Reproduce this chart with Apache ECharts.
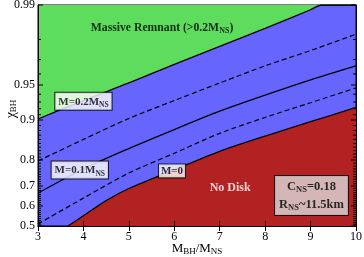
<!DOCTYPE html>
<html><head><meta charset="utf-8">
<script src="https://cdn.jsdelivr.net/npm/echarts@6/dist/echarts.min.js"></script>
<style>html,body{margin:0;padding:0;background:#fff}#c{width:364px;height:257px}</style>
</head><body><div id="c"></div>
<script>
// ---- data ----
const xTickLabels = [3, 4, 5, 6, 7, 8, 9, 10];
const yTickVals = [0.5, 0.6, 0.7, 0.8, 0.9, 0.95, 0.99];
const yTickLabels = ['0.5', '0.6', '0.7', '0.8', '0.9', '0.95', '0.99'];
// axis scale knots (axis units for each labelled chi)
const yScaleUnits = [0, 20, 40, 66, 106, 141, 221];

const qM02 = [3, 4, 5, 6, 7, 8, 9, 9.25, 10];
const chiM02 = [0.902, 0.932, 0.952, 0.967, 0.977, 0.984, 0.989, 0.99, 0.99];
const qGrid = [3, 4, 5, 6, 7, 8, 9, 10];
const chiM015 = [0.797, 0.860, 0.903, 0.932, 0.952, 0.966, 0.975, 0.982];
const chiM01 = [0.668, 0.770, 0.836, 0.882, 0.916, 0.939, 0.955, 0.966];
const chiM005 = [0.511, 0.643, 0.755, 0.822, 0.874, 0.905, 0.929, 0.947];
const qM0 = [3.66, 4, 4.5, 5, 6, 7, 8, 9, 10];
const chiM0 = [0.5, 0.554, 0.630, 0.689, 0.767, 0.828, 0.868, 0.897, 0.922];

// ---- scale ----
function T(chi) {
  const L = Math.log10(1 - chi);
  const Ls = yTickVals.map(v => Math.log10(1 - v));
  let i = 0;
  while (i < yTickVals.length - 2 && chi > yTickVals[i + 1]) i++;
  const t = (L - Ls[i]) / (Ls[i + 1] - Ls[i]);
  return yScaleUnits[i] + t * (yScaleUnits[i + 1] - yScaleUnits[i]);
}
const pts = (qs, cs) => qs.map((q, i) => [q, T(cs[i])]);

const minorTicks = [];
for (let k = 51; k <= 98; k++) {
  const v = k / 100;
  if (yTickVals.some(m => Math.abs(m - v) < 1e-9)) continue;
  minorTicks.push(v);
}
const tickData = yTickVals.map((v, i) => [3, T(v), 1, i]).concat(minorTicks.map(v => [3, T(v), 0, -1]));

const SERIF = 'Liberation Serif';
const rich = {
  t: {fontFamily: SERIF, fontSize: 11, fontWeight: 'bold', color: '#000'},
  s: {fontFamily: SERIF, fontSize: 7.5, fontWeight: 'bold', color: '#000', padding: [6, 0, 0, 0]},
  m: {fontFamily: SERIF, fontSize: 11.7, fontWeight: 'bold', color: '#000'},
  ms: {fontFamily: SERIF, fontSize: 8, fontWeight: 'bold', color: '#000', padding: [6, 0, 0, 0]},
  T: {fontFamily: SERIF, fontSize: 12.5, fontWeight: 'bold', color: '#000'},
  S: {fontFamily: SERIF, fontSize: 8.5, fontWeight: 'bold', color: '#000', padding: [6, 0, 0, 0]},
  w: {fontFamily: SERIF, fontSize: 12, fontWeight: 'bold', color: '#fff'}
};
const boxLabel = {show: true, position: 'inside', backgroundColor: '#fff', borderColor: '#000', borderWidth: 1, padding: [2, 3, 1, 3], rich: rich};

const chart = echarts.init(document.getElementById('c'), null, {renderer: 'canvas'});
const lineCommon = {type: 'line', showSymbol: false, symbol: 'none', smooth: 0.3, z: 3};

chart.setOption({
  animation: false,
  backgroundColor: '#fff',
  grid: {left: 38, right: 8, top: 5, bottom: 31, containLabel: false, outerBoundsMode: 'none',
    show: true, backgroundColor: '#6666ff', borderColor: '#000', borderWidth: 1},
  xAxis: [{
    type: 'value', min: 3, max: 10, interval: 1, z: 5,
    axisLine: {show: true, lineStyle: {color: '#000'}},
    axisTick: {show: true, inside: true, length: 5, lineStyle: {color: '#000'}},
    axisLabel: {color: '#000', fontFamily: SERIF, fontSize: 12, margin: 5,
      formatter: v => xTickLabels.includes(v) ? String(v) : ''},
    splitLine: {show: false},
    name: '{n|M}{u|BH}{n|/M}{u|NS}', nameLocation: 'middle', nameGap: 23, nameMoveOverlap: false,
    nameTextStyle: {verticalAlign: 'middle', rich: {
      n: {fontFamily: SERIF, fontSize: 13, color: '#000'},
      u: {fontFamily: SERIF, fontSize: 9, color: '#000', padding: [6, 0, 0, 0]}
    }}
  }, {
    type: 'value', position: 'top', min: 3, max: 10, interval: 1, z: 5,
    axisLine: {show: true, lineStyle: {color: '#000'}},
    axisTick: {show: true, inside: true, length: 5, lineStyle: {color: '#000'}},
    axisLabel: {show: false}, splitLine: {show: false}
  }],
  yAxis: [{
    type: 'value', min: 0, max: 221, z: 5,
    axisLine: {show: true, lineStyle: {color: '#000'}},
    axisTick: {show: false}, axisLabel: {show: false}, splitLine: {show: false}
  }, {
    type: 'value', position: 'right', min: 0, max: 221, z: 5,
    axisLine: {show: true, lineStyle: {color: '#000'}},
    axisTick: {show: false}, axisLabel: {show: false}, splitLine: {show: false}
  }],
  graphic: [{
    type: 'text', x: 11, y: 109, rotation: Math.PI / 2, z: 10,
    style: {text: '{c|χ}{u|BH}', align: 'center', verticalAlign: 'middle', rich: {
      c: {fontFamily: SERIF, fontSize: 14, fill: '#000'},
      u: {fontFamily: SERIF, fontSize: 9, fill: '#000', padding: [6, 0, 0, 0]}
    }}
  }],
  series: [
    Object.assign({}, lineCommon, {name: 'M=0.2', data: pts(qM02, chiM02),
      lineStyle: {color: '#000', width: 1.3}, areaStyle: {color: '#5ddc5d', opacity: 1, origin: 'end'}}),
    Object.assign({}, lineCommon, {name: 'M=0', data: pts(qM0, chiM0),
      lineStyle: {color: '#000', width: 1.3}, areaStyle: {color: '#b22222', opacity: 1, origin: 'start'}}),
    Object.assign({}, lineCommon, {name: 'M=0.15', data: pts(qGrid, chiM015),
      lineStyle: {color: '#000', width: 1.2, type: [5, 3]}}),
    Object.assign({}, lineCommon, {name: 'M=0.1', data: pts(qGrid, chiM01),
      lineStyle: {color: '#000', width: 1.3}}),
    Object.assign({}, lineCommon, {name: 'M=0.05', data: pts(qGrid, chiM005),
      lineStyle: {color: '#000', width: 1.2, type: [5, 3]}}),
    {
      type: 'custom', z: 6, clip: false, silent: true,
      data: tickData,
      renderItem: function (params, api) {
        const u = api.value(1), major = api.value(2), idx = api.value(3);
        const pl = api.coord([3, u]), pr = api.coord([10, u]);
        const len = major ? 5 : 3;
        const children = [
          {type: 'line', shape: {x1: pl[0], y1: pl[1], x2: pl[0] + len, y2: pl[1]}, style: {stroke: '#000', lineWidth: 1}},
          {type: 'line', shape: {x1: pr[0], y1: pr[1], x2: pr[0] - len, y2: pr[1]}, style: {stroke: '#000', lineWidth: 1}}
        ];
        if (major) {
          children.push({type: 'text', x: pl[0] - 3, y: pl[1],
            style: {text: yTickLabels[idx], fill: '#000', fontFamily: SERIF, fontSize: 12, align: 'right', verticalAlign: 'middle'}});
        }
        return {type: 'group', children: children};
      }
    },
    {
      type: 'scatter', z: 8, symbolSize: 0, silent: true,
      data: [
        {value: [5.73, T(0.984)], label: {show: true, position: 'inside', rich: rich, formatter: '{m|Massive Remnant (>0.2M}{ms|NS}{m|)}'}},
        {value: [4.0, T(0.931)], label: Object.assign({}, boxLabel, {formatter: '{t|M=0.2M}{s|NS}'})},
        {value: [3.92, T(0.766)], label: Object.assign({}, boxLabel, {formatter: '{t|M=0.1M}{s|NS}'})},
        {value: [5.95, T(0.763)], label: Object.assign({}, boxLabel, {padding: [1, 2, 1, 2], formatter: '{t|M=0}'})},
        {value: [7.23, T(0.691)], label: {show: true, position: 'inside', rich: rich, formatter: '{w|No Disk}'}},
        {value: [9.02, T(0.656)], label: {show: true, position: 'inside', backgroundColor: '#dcdcdc', borderColor: '#000', borderWidth: 1,
          padding: [2, 4, 1, 4], lineHeight: 18, rich: rich,
          formatter: '{T|C}{S|NS}{T|=0.18}\n{T|R}{S|NS}{T|~11.5km}'}}
      ]
    }
  ]
});
</script></body></html>
